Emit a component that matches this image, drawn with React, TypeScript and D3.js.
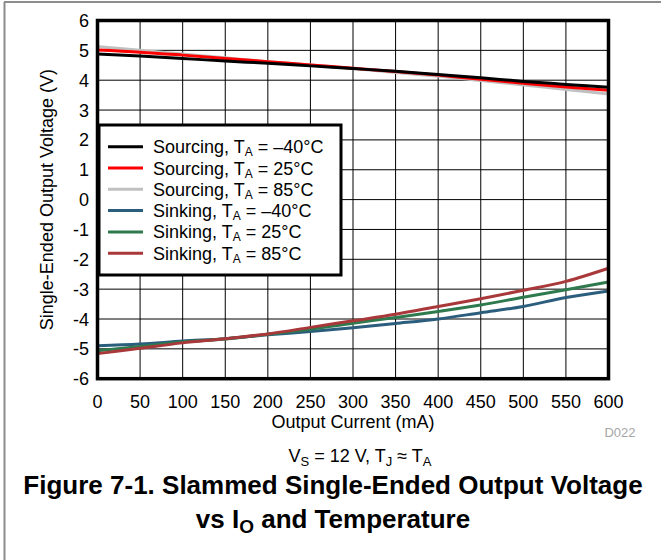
import React from "react";
import * as d3 from "d3";

const currents = [0, 50, 100, 150, 200, 250, 300, 350, 400, 450, 500, 550, 600];
const srcM40 = [4.88, 4.81, 4.73, 4.64, 4.57, 4.48, 4.39, 4.3, 4.19, 4.08, 3.96, 3.86, 3.76];
const src25 = [5.01, 4.94, 4.84, 4.73, 4.62, 4.51, 4.4, 4.29, 4.17, 4.03, 3.9, 3.77, 3.66];
const src85 = [5.13, 5.0, 4.88, 4.75, 4.62, 4.51, 4.39, 4.26, 4.14, 3.99, 3.84, 3.69, 3.54];
const snkM40 = [-4.9, -4.84, -4.74, -4.66, -4.53, -4.42, -4.29, -4.15, -4.0, -3.79, -3.58, -3.28, -3.06];
const snk25 = [-5.06, -4.92, -4.77, -4.67, -4.51, -4.34, -4.14, -3.95, -3.75, -3.53, -3.27, -3.02, -2.76];
const snk85 = [-5.16, -4.98, -4.8, -4.66, -4.5, -4.28, -4.06, -3.84, -3.58, -3.32, -3.04, -2.74, -2.3];

const xTicks = [0, 50, 100, 150, 200, 250, 300, 350, 400, 450, 500, 550, 600];
const yTicks = [-6, -5, -4, -3, -2, -1, 0, 1, 2, 3, 4, 5, 6];

const seriesNames = ["Sourcing", "Sourcing", "Sourcing", "Sinking", "Sinking", "Sinking"];
const seriesTemps = ["\u201340\u00B0C", "25\u00B0C", "85\u00B0C", "\u201340\u00B0C", "25\u00B0C", "85\u00B0C"];
const seriesColors = ["#000000", "#ff0000", "#c0c0c0", "#2b5d7d", "#2e7a4e", "#a8383a"];
const seriesValues = [srcM40, src25, src85, snkM40, snk25, snk85];
const drawOrder = [2, 1, 0, 3, 4, 5];

const FONT = "'Liberation Sans', Arial, Helvetica, sans-serif";

export default function App() {
  const W = 661;
  const H = 560;
  const x = d3.scaleLinear().domain([0, 600]).range([97.5, 608.5]);
  const y = d3.scaleLinear().domain([-6, 6]).range([378.7, 20.5]);
  const line = d3
    .line<[number, number]>()
    .x((d) => x(d[0]))
    .y((d) => y(d[1]))
    .curve(d3.curveMonotoneX);

  const legX = 99;
  const legY = 125;
  const legW = 242;
  const legH = 150;
  const rowY = (i: number) => 146.7 + i * 21.3;

  return (
    <svg
      width={W}
      height={H}
      style={{ position: "absolute", left: 0, top: 0, background: "#fff" }}
      fontFamily={FONT}
    >
      <rect x={0} y={0} width={W} height={H} fill="#fff" />
      <line x1={4.5} y1={2} x2={4.5} y2={H} stroke="#8c8c8c" strokeWidth={2} />
      <line x1={4} y1={2} x2={W} y2={2} stroke="#8c8c8c" strokeWidth={2} />

      {xTicks.map((t) => (
        <line key={"gx" + t} x1={x(t)} x2={x(t)} y1={y(6)} y2={y(-6)} stroke="#000" strokeWidth={1} />
      ))}
      {yTicks.map((t) => (
        <line key={"gy" + t} x1={x(0)} x2={x(600)} y1={y(t)} y2={y(t)} stroke="#000" strokeWidth={1} />
      ))}

      {drawOrder.map((i) => (
        <path
          key={"s" + i}
          d={line(currents.map((c, k) => [c, seriesValues[i][k]] as [number, number])) || ""}
          fill="none"
          stroke={seriesColors[i]}
          strokeWidth={3}
        />
      ))}

      <rect
        x={x(0)}
        y={y(6)}
        width={x(600) - x(0)}
        height={y(-6) - y(6)}
        fill="none"
        stroke="#000"
        strokeWidth={3.5}
      />

      {yTicks.map((t) => (
        <text key={"ty" + t} x={89} y={y(t) + 6.5} textAnchor="end" fontSize={18} fill="#000">
          {t}
        </text>
      ))}
      {xTicks.map((t) => (
        <text key={"tx" + t} x={x(t)} y={408} textAnchor="middle" fontSize={18} fill="#000">
          {t}
        </text>
      ))}

      <text
        transform={`translate(53, ${(y(6) + y(-6)) / 2}) rotate(-90)`}
        textAnchor="middle"
        fontSize={18}
        fill="#000"
      >
        Single-Ended Output Voltage (V)
      </text>
      <text x={(x(0) + x(600)) / 2} y={428} textAnchor="middle" fontSize={18} fill="#000">
        Output Current (mA)
      </text>
      <text x={620} y={437} textAnchor="middle" fontSize={13} fill="#a6a6a6">
        D022
      </text>

      <rect x={legX} y={legY} width={legW} height={legH} fill="#fff" stroke="#000" strokeWidth={3} />
      {seriesNames.map((n, i) => (
        <g key={"lg" + i}>
          <line x1={108} x2={143} y1={rowY(i)} y2={rowY(i)} stroke={seriesColors[i]} strokeWidth={3} />
          <text x={153} y={rowY(i) + 6.5} fontSize={18} fill="#000">
            {n + ", T"}
            <tspan fontSize={12} dy={3}>A</tspan>
            <tspan dy={-3}>{" = " + seriesTemps[i]}</tspan>
          </text>
        </g>
      ))}

      <text x={360} y={462} textAnchor="middle" fontSize={18} fill="#000">
        V<tspan fontSize={13} dy={4}>S</tspan>
        <tspan dy={-4}>{" = 12 V, T"}</tspan>
        <tspan fontSize={13} dy={4}>J</tspan>
        <tspan dy={-4}>{" \u2248 T"}</tspan>
        <tspan fontSize={13} dy={4}>A</tspan>
      </text>

      <text x={333} y={494} textAnchor="middle" fontSize={26} fontWeight="bold" fill="#000">
        Figure 7-1. Slammed Single-Ended Output Voltage
      </text>
      <text x={333} y={528} textAnchor="middle" fontSize={26} fontWeight="bold" fill="#000">
        vs I<tspan fontSize={19} dy={5}>O</tspan>
        <tspan dy={-5}> and Temperature</tspan>
      </text>
    </svg>
  );
}
